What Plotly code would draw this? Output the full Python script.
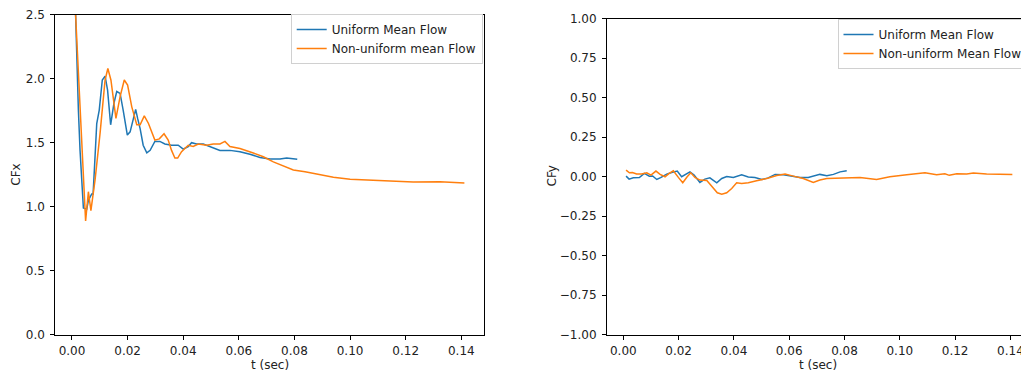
import plotly.graph_objects as go

# ---- Drag coefficient CFx vs time ----
t_cfx_uniform = [0.0005, 0.0013, 0.0023, 0.0029, 0.0041, 0.0053, 0.0059, 0.0071, 0.0076,
                 0.0089, 0.0098, 0.0109, 0.0119, 0.0128, 0.0139, 0.0151, 0.0161, 0.0173,
                 0.0184, 0.0199, 0.0209, 0.0220, 0.0229, 0.0236, 0.0245, 0.0256, 0.0269,
                 0.0281, 0.0298, 0.0316, 0.0334, 0.0358, 0.0382, 0.0400, 0.0418, 0.0430,
                 0.0448, 0.0472, 0.0496, 0.0532, 0.0568, 0.0604, 0.0640, 0.0676, 0.0712,
                 0.0748, 0.0772, 0.0810]
cfx_uniform = [3.40, 2.50, 1.755, 1.44, 0.99, 0.98, 1.05, 1.10, 1.10,
               1.65, 1.755, 1.99, 2.02, 1.91, 1.64, 1.81, 1.90, 1.885,
               1.755, 1.56, 1.585, 1.68, 1.76, 1.69, 1.61, 1.48, 1.42,
               1.44, 1.51, 1.51, 1.49, 1.48, 1.48, 1.45, 1.47, 1.50,
               1.49, 1.49, 1.47, 1.44, 1.44, 1.43, 1.41, 1.385, 1.372,
               1.372, 1.38, 1.37]

t_cfx_nonuniform = [0.0005, 0.0013, 0.0049, 0.0059, 0.0068, 0.0083, 0.0101, 0.0119, 0.0129,
                    0.0140, 0.0158, 0.0173, 0.0188, 0.0200, 0.0215, 0.0233, 0.0245, 0.0260,
                    0.0275, 0.0298, 0.0314, 0.0331, 0.0346, 0.0358, 0.0370, 0.0380, 0.0394,
                    0.0418, 0.0436, 0.0454, 0.0484, 0.0508, 0.0532, 0.0550, 0.0568, 0.0604,
                    0.0652, 0.0688, 0.0724, 0.0748, 0.0772, 0.0796, 0.0838, 0.0880, 0.0940,
                    0.1000, 0.1072, 0.1143, 0.1227, 0.1323, 0.1411]
cfx_nonuniform = [3.50, 2.50, 0.888, 1.117, 0.97, 1.21, 1.575, 1.99, 2.08,
                  1.99, 1.69, 1.86, 1.99, 1.95, 1.78, 1.64, 1.64, 1.71,
                  1.65, 1.52, 1.53, 1.57, 1.52, 1.44, 1.38, 1.38, 1.43,
                  1.48, 1.47, 1.49, 1.48, 1.49, 1.49, 1.51, 1.47, 1.455,
                  1.42, 1.39, 1.35, 1.33, 1.31, 1.287, 1.273, 1.253, 1.23,
                  1.214, 1.206, 1.198, 1.193, 1.195, 1.185]

# ---- Lift coefficient CFy vs time ----
t_cfy_uniform = [0.0010, 0.0021, 0.0036, 0.0058, 0.0076, 0.0094, 0.0106, 0.0121, 0.0135,
                 0.0157, 0.0175, 0.0195, 0.0211, 0.0227, 0.0241, 0.0256, 0.0277, 0.0295,
                 0.0313, 0.0338, 0.0356, 0.0374, 0.0398, 0.0428, 0.0452, 0.0476, 0.0501,
                 0.0524, 0.0549, 0.0579, 0.0609, 0.0639, 0.0669, 0.0693, 0.0711, 0.0736,
                 0.0760, 0.0784, 0.0808]
cfy_uniform = [0.003, -0.016, -0.008, -0.006, 0.020, 0.003, 0.004, -0.018, -0.006,
               0.016, 0.026, 0.035, -0.001, 0.016, 0.030, 0.010, -0.037, -0.016,
               -0.008, -0.039, -0.012, 0.001, -0.006, 0.011, -0.002, -0.006, -0.018,
               -0.008, 0.014, 0.012, 0.003, -0.006, -0.006, 0.003, 0.014, 0.006,
               0.014, 0.030, 0.037]

t_cfy_nonuniform = [0.0010, 0.0022, 0.0033, 0.0048, 0.0066, 0.0085, 0.0100, 0.0118, 0.0133,
                    0.0151, 0.0166, 0.0181, 0.0199, 0.0215, 0.0231, 0.0244, 0.0259, 0.0277,
                    0.0302, 0.0320, 0.0340, 0.0356, 0.0374, 0.0392, 0.0410, 0.0428, 0.0452,
                    0.0482, 0.0519, 0.0555, 0.0585, 0.0615, 0.0651, 0.0687, 0.0711, 0.0736,
                    0.0796, 0.0856, 0.0916, 0.0964, 0.1025, 0.1091, 0.1133, 0.1163, 0.1179,
                    0.1206, 0.1242, 0.1266, 0.1314, 0.1362, 0.1407]
cfy_nonuniform = [0.041, 0.024, 0.026, 0.016, 0.016, 0.024, 0.009, 0.035, 0.014,
                  -0.001, 0.020, 0.037, -0.005, -0.039, -0.001, 0.024, -0.005, -0.022,
                  -0.024, -0.064, -0.102, -0.111, -0.102, -0.075, -0.039, -0.043, -0.039,
                  -0.026, -0.012, 0.007, 0.016, 0.003, -0.012, -0.037, -0.022, -0.012,
                  -0.010, -0.005, -0.018, -0.001, 0.011, 0.024, 0.011, 0.018, 0.008,
                  0.018, 0.016, 0.022, 0.016, 0.016, 0.014]

x_ticks = [0.00, 0.02, 0.04, 0.06, 0.08, 0.10, 0.12, 0.14]
cfx_ticks = [0.0, 0.5, 1.0, 1.5, 2.0, 2.5]
cfy_ticks = [-1.00, -0.75, -0.50, -0.25, 0.00, 0.25, 0.50, 0.75, 1.00]

BLUE = "#1f77b4"
ORANGE = "#ff7f0e"
FONT = "DejaVu Sans"
TEXT = "#222"
FS = 12
W, H = 1021, 375


def px(x):
    return x / W


def py(y):
    return 1 - y / H


fig = go.Figure()

fig.add_trace(go.Scatter(x=t_cfx_uniform, y=cfx_uniform, mode="lines",
                         name="Uniform Mean Flow", line=dict(color=BLUE, width=1.5),
                         xaxis="x", yaxis="y", legend="legend"))
fig.add_trace(go.Scatter(x=t_cfx_nonuniform, y=cfx_nonuniform, mode="lines",
                         name="Non-uniform mean Flow", line=dict(color=ORANGE, width=1.5),
                         xaxis="x", yaxis="y", legend="legend"))
fig.add_trace(go.Scatter(x=t_cfy_uniform, y=cfy_uniform, mode="lines",
                         name="Uniform Mean Flow", line=dict(color=BLUE, width=1.5),
                         xaxis="x2", yaxis="y2", legend="legend2"))
fig.add_trace(go.Scatter(x=t_cfy_nonuniform, y=cfy_nonuniform, mode="lines",
                         name="Non-uniform Mean Flow", line=dict(color=ORANGE, width=1.5),
                         xaxis="x2", yaxis="y2", legend="legend2"))

axis_common = dict(showgrid=False, zeroline=False, showline=True, linecolor="black",
                   linewidth=1, ticks="outside", ticklen=4, tickwidth=1, tickcolor="black",
                   automargin=False, tickfont=dict(family=FONT, size=FS, color=TEXT),
                   ticklabeloverflow="allow")

legend_common = dict(bgcolor="rgba(255,255,255,0.8)", bordercolor="#d0d0d0", borderwidth=1,
                     font=dict(family=FONT, size=FS, color=TEXT), xanchor="left",
                     yanchor="top", tracegroupgap=0, itemwidth=30)


def label(text, x, y, angle=0):
    return dict(text=text, x=px(x), y=py(y), xref="paper", yref="paper", showarrow=False,
                xanchor="center", yanchor="middle", textangle=angle,
                font=dict(family=FONT, size=FS, color=TEXT))


fig.update_layout(
    width=W, height=H,
    margin=dict(l=0, r=0, t=0, b=0, autoexpand=False),
    paper_bgcolor="white", plot_bgcolor="white",
    font=dict(family=FONT, size=FS, color=TEXT),
    xaxis=dict(domain=[px(55.3), px(484)], range=[-0.0060, 0.14815],
               tickvals=x_ticks, tickformat=".2f", mirror=True, anchor="y",
               ticklabelstandoff=1, **axis_common),
    yaxis=dict(domain=[py(334.7), py(14.7)], range=[0, 2.5],
               tickvals=cfx_ticks, tickformat=".1f", mirror=True, anchor="x",
               ticklabelstandoff=3, **axis_common),
    xaxis2=dict(domain=[px(607), 1.0], range=[-0.0059, 0.14383],
                tickvals=x_ticks, tickformat=".2f", mirror=True, anchor="y2",
                ticklabelstandoff=1, **axis_common),
    yaxis2=dict(domain=[py(334.7), py(18.5)], range=[-1, 1],
                tickvals=cfy_ticks, tickformat=".2f", mirror=False, anchor="x2",
                ticklabelstandoff=3, **axis_common),
    legend=dict(x=px(290.7), y=py(14), **legend_common),
    legend2=dict(x=px(837.5), y=py(19), **legend_common),
    annotations=[
        label("CFx", 16, 174.7, -90),
        label("t (sec)", 269.7, 365),
        label("CFy", 551, 176.5, -90),
        label("t (sec)", 818, 365),
    ],
)

fig.write_html("out.html")
